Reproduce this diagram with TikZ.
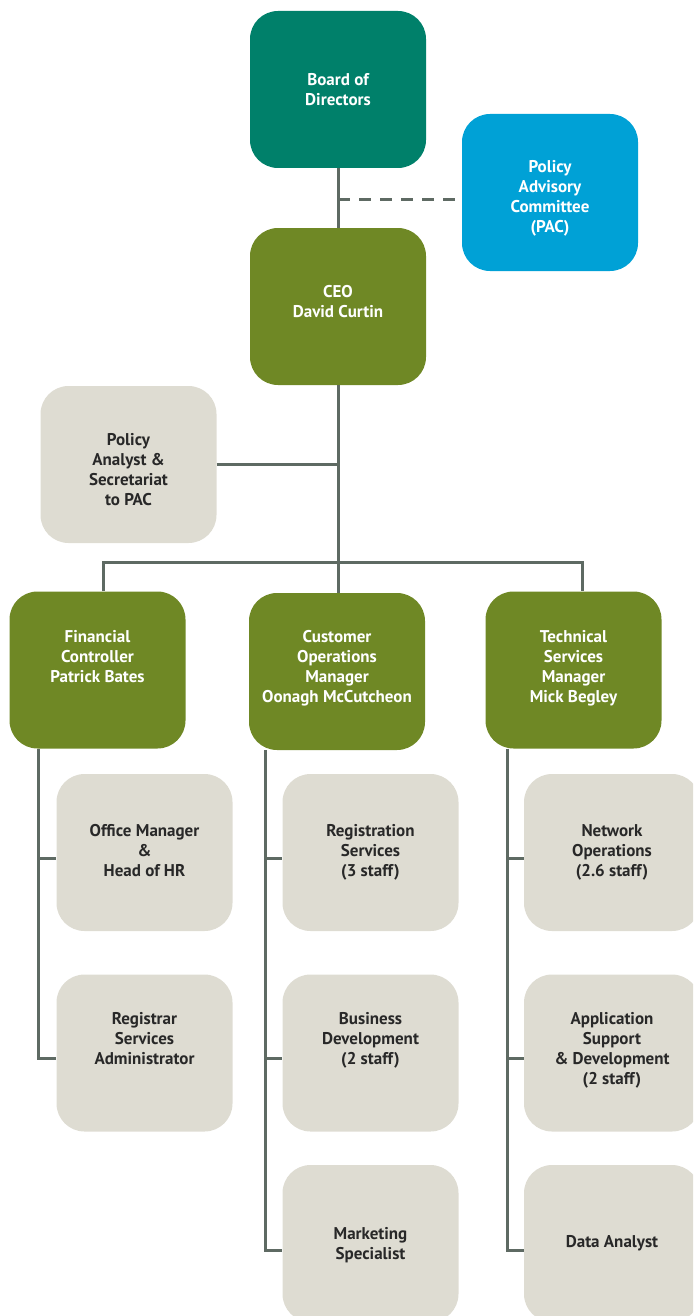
\documentclass[tikz,border=0pt]{standalone}
\usepackage{fontspec}
\setmainfont{PT Sans}
\definecolor{teal}{RGB}{0,128,106}
\definecolor{pacblue}{RGB}{0,161,214}
\definecolor{olive}{RGB}{111,136,37}
\definecolor{stone}{RGB}{222,220,210}
\definecolor{conn}{RGB}{94,106,99}
\definecolor{ink}{RGB}{40,40,40}
\newcommand\bxt[2]{\raisebox{\dimexpr#1-2pt\relax}[0pt][0pt]{\begin{tabular}{@{}c@{}}#2\end{tabular}}}
\begin{document}
\begin{tikzpicture}[x=1pt,y=-1pt,
  box/.style={rounded corners=28pt, minimum width=176pt, minimum height=157pt,
    inner sep=0pt, font=\fontsize{17}{20}\selectfont\bfseries},
  boardbox/.style={box, fill=teal, text=white},
  pacbox/.style={box, fill=pacblue, text=white},
  greenbox/.style={box, fill=olive, text=white},
  greybox/.style={box, fill=stone, text=ink},
  link/.style={draw=conn, line width=3pt},
  dlink/.style={link, dash pattern=on 12pt off 9pt}]
\useasboundingbox (0,0) rectangle (693,1316);
\clip (0,0) rectangle (693,1316);

\node[boardbox] (board) at (338,89.5) {\bxt{-4pt}{Board of\\Directors}};
\node[pacbox] (pac) at (550,192.5) {\bxt{-8pt}{Policy\\Advisory\\Committee\\(PAC)}};
\node[greenbox] (ceo) at (338,306.5) {\bxt{1pt}{CEO\\David Curtin}};
\node[greybox] (pa) at (128.5,464.5) {\bxt{-9pt}{Policy\\Analyst \&\\Secretariat\\to PAC}};

\node[greenbox] (fin) at (97.5,670) {\bxt{9pt}{Financial\\Controller\\Patrick Bates}};
\node[greenbox] (cust) at (337,671.5) {\bxt{0.5pt}{Customer\\Operations\\Manager\\Oonagh McCutcheon}};
\node[greenbox] (tech) at (573.5,670) {\bxt{-1pt}{Technical\\Services\\Manager\\Mick Begley}};

\node[greybox] (office) at (144.5,852.5) {\bxt{-2pt}{Office Manager\\\&\\Head of HR}};
\node[greybox] (regadm) at (144.5,1053) {\bxt{10.5pt}{Registrar\\Services\\Administrator}};

\node[greybox] (regsvc) at (370.5,852.5) {\bxt{-2pt}{Registration\\Services\\(3 staff)}};
\node[greybox] (busdev) at (370.5,1053) {\bxt{10.5pt}{Business\\Development\\(2 staff)}};
\node[greybox] (mkt) at (370.5,1243.5) {\bxt{-4pt}{Marketing\\Specialist}};

\node[greybox] (netops) at (612,852.5) {\bxt{-2pt}{Network\\Operations\\(2.6 staff)}};
\node[greybox] (appdev) at (612,1053) {\bxt{0.5pt}{Application\\Support\\\& Development\\(2 staff)}};
\node[greybox] (data) at (612,1243.5) {\bxt{-2pt}{Data Analyst}};

% connectors
\coordinate (dj) at (338,199);
\coordinate (busL) at (103,562);
\coordinate (busR) at (582,562);
\coordinate (finx) at (38,0);
\coordinate (custx) at (265,0);
\coordinate (techx) at (507,0);
\coordinate (r1) at (0,858);
\coordinate (r2) at (0,1058);
\coordinate (r3) at (0,1250);

\draw[link] (board.south) -- (ceo.north);
\draw[dlink] (dj) -- (dj -| pac.west);
\draw[link] (ceo.south) -- (ceo.south |- cust.north);
\draw[link] (pa.east) -- (pa.east -| ceo.south);
\draw[link] (busL |- fin.north) -- (busL) -- (busR) -- (busR |- tech.north);

\draw[link] (finx |- fin.south) -- (finx |- r2) -- (r2 -| regadm.west);
\draw[link] (finx |- r1) -- (r1 -| office.west);

\draw[link] (custx |- cust.south) -- (custx |- r3) -- (r3 -| mkt.west);
\draw[link] (custx |- r1) -- (r1 -| regsvc.west);
\draw[link] (custx |- r2) -- (r2 -| busdev.west);

\draw[link] (techx |- tech.south) -- (techx |- r3) -- (r3 -| data.west);
\draw[link] (techx |- r1) -- (r1 -| netops.west);
\draw[link] (techx |- r2) -- (r2 -| appdev.west);
\end{tikzpicture}
\end{document}
